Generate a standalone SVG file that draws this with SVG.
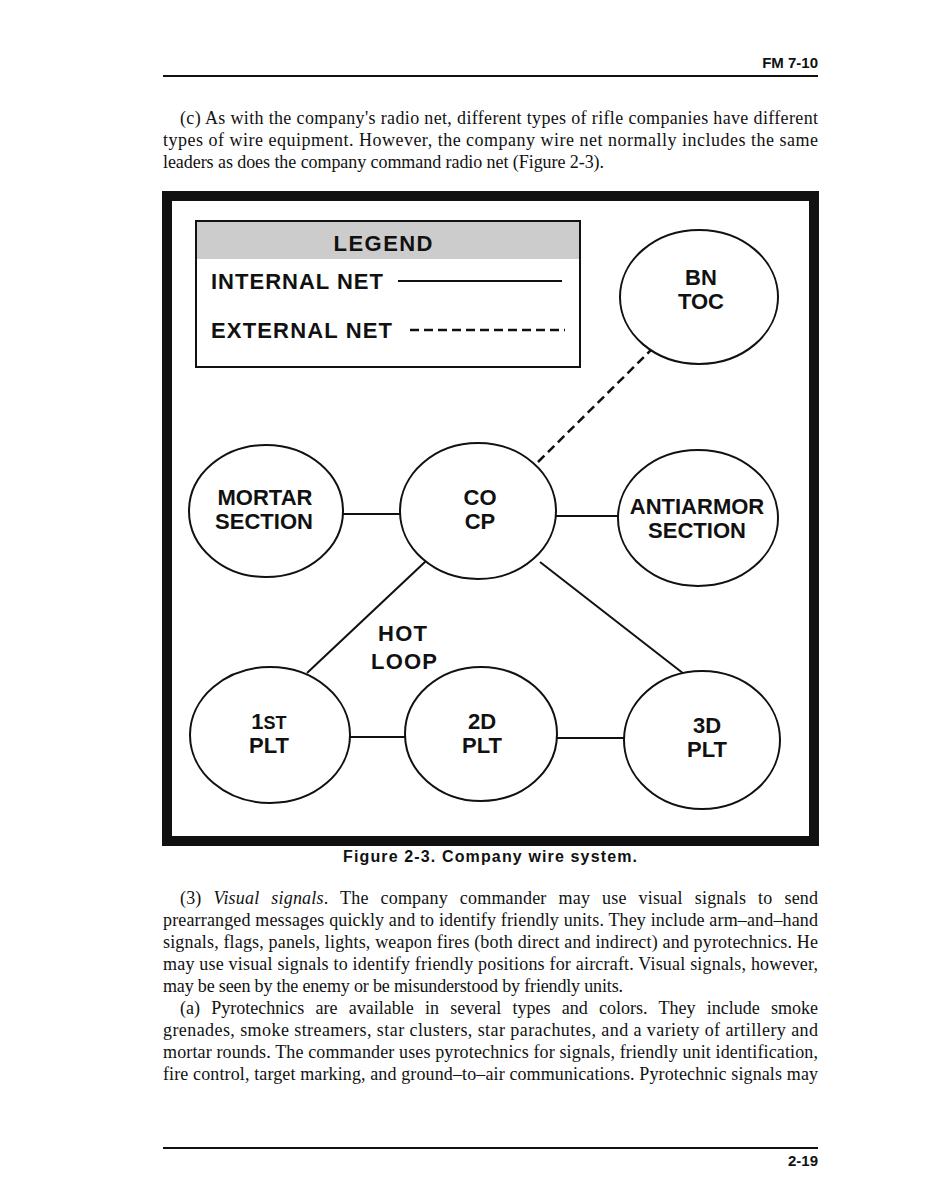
<svg xmlns="http://www.w3.org/2000/svg" width="926" height="1198" viewBox="0 0 926 1198">
<style>
.hdr{font-family:"Liberation Sans",Arial,sans-serif;font-weight:bold;font-size:15px;fill:#111}
.body{font-family:"Liberation Serif","Times New Roman",serif;font-size:18px;fill:#111}
.lbl{font-family:"Liberation Sans",Arial,sans-serif;font-weight:bold;font-size:22px;fill:#111;text-anchor:middle}
.leg{font-family:"Liberation Sans",Arial,sans-serif;font-weight:bold;font-size:22px;fill:#111}
.node{fill:#fff;stroke:#111;stroke-width:2}
.wire{stroke:#111;stroke-width:2;fill:none}
.ext{stroke:#111;stroke-width:2.5;fill:none;stroke-dasharray:9 5}
.rule{stroke:#111;stroke-width:2}
</style>
<rect width="926" height="1198" fill="#fff"/>
<text class="hdr" x="818" y="68" text-anchor="end">FM 7-10</text>
<line class="rule" x1="163" y1="76" x2="818" y2="76"/>
<g id="para1">
<text class="body" x="180" y="124" textLength="638">(c) As with the company's radio net, different types of rifle companies have different</text>
<text class="body" x="163" y="146" textLength="655">types of wire equipment. However, the company wire net normally includes the same</text>
<text class="body" x="163" y="168" textLength="441">leaders as does the company command radio net (Figure 2-3).</text>
</g>
<rect x="167" y="196" width="647" height="645" fill="#fff" stroke="#111" stroke-width="10"/>
<g id="legend">
<rect x="196" y="221" width="384" height="38" fill="#cccccc"/>
<rect x="196" y="221" width="384" height="146" fill="none" stroke="#111" stroke-width="2"/>
<text class="leg" x="383" y="251" text-anchor="middle" textLength="99">LEGEND</text>
<text class="leg" x="211" y="289" textLength="172">INTERNAL NET</text>
<line class="wire" x1="398" y1="281" x2="562" y2="281"/>
<text class="leg" x="211" y="338" textLength="181">EXTERNAL NET</text>
<line class="ext" x1="410" y1="330" x2="565" y2="330"/>
</g>
<g id="connectors">
<line class="ext" x1="538" y1="462" x2="652" y2="349"/>
<line class="wire" x1="343" y1="514" x2="401" y2="514"/>
<line class="wire" x1="556" y1="516" x2="620" y2="516"/>
<line class="wire" x1="426" y1="561" x2="307" y2="673"/>
<line class="wire" x1="540" y1="562" x2="684" y2="674"/>
<line class="wire" x1="350" y1="737" x2="406" y2="737"/>
<line class="wire" x1="557" y1="738" x2="625" y2="738"/>
</g>
<g id="bn-toc">
<ellipse class="node" cx="699" cy="297" rx="79" ry="67"/>
<text class="lbl" x="701" y="285">BN</text>
<text class="lbl" x="701" y="309">TOC</text>
</g>
<g id="mortar-section">
<ellipse class="node" cx="266" cy="511" rx="77" ry="66"/>
<text class="lbl" x="265" y="505">MORTAR</text>
<text class="lbl" x="264" y="529">SECTION</text>
</g>
<g id="co-cp">
<ellipse class="node" cx="478" cy="511" rx="78" ry="68"/>
<text class="lbl" x="480" y="505">CO</text>
<text class="lbl" x="480" y="529">CP</text>
</g>
<g id="antiarmor-section">
<ellipse class="node" cx="698" cy="518" rx="80" ry="68"/>
<text class="lbl" x="697" y="514">ANTIARMOR</text>
<text class="lbl" x="697" y="538">SECTION</text>
</g>
<g id="plt1">
<ellipse class="node" cx="270" cy="735" rx="80" ry="68"/>
<text class="lbl" x="269" y="729">1<tspan font-size="18">ST</tspan></text>
<text class="lbl" x="269" y="753">PLT</text>
</g>
<g id="plt2">
<ellipse class="node" cx="481" cy="734" rx="76" ry="67"/>
<text class="lbl" x="482" y="729">2D</text>
<text class="lbl" x="482" y="753">PLT</text>
</g>
<g id="plt3">
<ellipse class="node" cx="702" cy="740" rx="78" ry="69"/>
<text class="lbl" x="707" y="733">3D</text>
<text class="lbl" x="707" y="757">PLT</text>
</g>
<g id="hot-loop">
<text class="leg" x="378" y="641" font-size="23" textLength="49">HOT</text>
<text class="leg" x="371" y="669" font-size="23" textLength="66">LOOP</text>
</g>
<text x="490" y="862" font-family="'Liberation Sans',Arial,sans-serif" font-weight="bold" font-size="16" text-anchor="middle" textLength="294" fill="#111">Figure 2-3. Company wire system.</text>
<g id="para2">
<text class="body" x="180" y="904" word-spacing="7.3" textLength="638">(3) <tspan font-style="italic">Visual signals</tspan>. The company commander may use visual signals to send</text>
<text class="body" x="163" y="926" textLength="655">prearranged messages quickly and to identify friendly units. They include arm–and–hand</text>
<text class="body" x="163" y="948" textLength="655">signals, flags, panels, lights, weapon fires (both direct and indirect) and pyrotechnics. He</text>
<text class="body" x="163" y="970" textLength="655">may use visual signals to identify friendly positions for aircraft. Visual signals, however,</text>
<text class="body" x="163" y="992" textLength="460">may be seen by the enemy or be misunderstood by friendly units.</text>
<text class="body" x="180" y="1014" word-spacing="6.7" textLength="638">(a) Pyrotechnics are available in several types and colors. They include smoke</text>
<text class="body" x="163" y="1036" textLength="655">grenades, smoke streamers, star clusters, star parachutes, and a variety of artillery and</text>
<text class="body" x="163" y="1058" textLength="655">mortar rounds. The commander uses pyrotechnics for signals, friendly unit identification,</text>
<text class="body" x="163" y="1080" textLength="655">fire control, target marking, and ground–to–air communications. Pyrotechnic signals may</text>
</g>
<line class="rule" x1="163" y1="1148" x2="818" y2="1148"/>
<text class="hdr" x="818" y="1166" text-anchor="end">2-19</text>
</svg>
